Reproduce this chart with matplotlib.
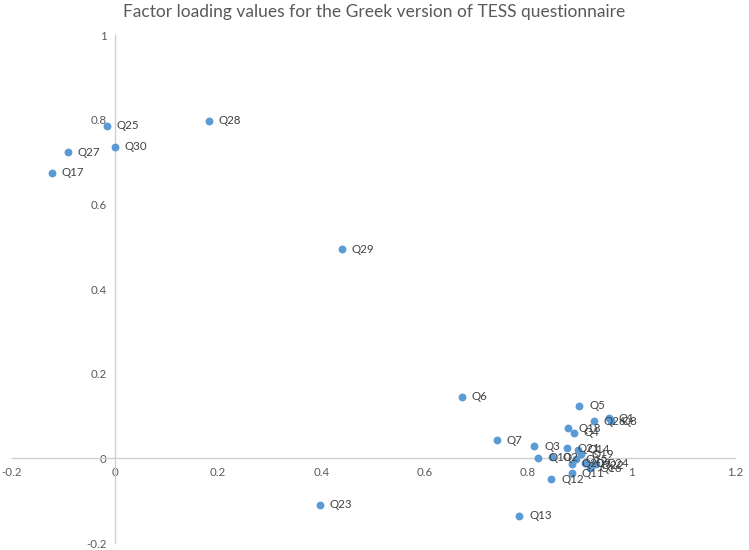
import matplotlib
matplotlib.use("Agg")
import matplotlib.pyplot as plt

labels = ["Q25", "Q28", "Q30", "Q27", "Q17", "Q29", "Q6", "Q23", "Q13", "Q7", "Q5",
          "Q3", "Q10", "Q2", "Q21", "Q14", "Q19", "Q15", "Q20", "Q9", "Q22", "Q24",
          "Q16", "Q11", "Q12", "Q18", "Q4", "Q26", "Q1", "Q8"]
x_vals = [-0.015, 0.182, 0.0, -0.091, -0.122, 0.439, 0.671, 0.397, 0.783, 0.739, 0.899,
          0.812, 0.820, 0.847, 0.876, 0.896, 0.903, 0.892, 0.884, 0.911, 0.923, 0.932,
          0.919, 0.884, 0.845, 0.878, 0.888, 0.928, 0.957, 0.961]
y_vals = [0.786, 0.798, 0.736, 0.723, 0.675, 0.494, 0.146, -0.110, -0.136, 0.043, 0.124,
          0.029, 0.001, 0.003, 0.024, 0.020, 0.010, -0.002, -0.013, -0.011, -0.016, -0.013,
          -0.023, -0.035, -0.049, 0.071, 0.060, 0.088, 0.095, 0.088]
x_ticks = [-0.2, 0, 0.2, 0.4, 0.6, 0.8, 1, 1.2]
y_ticks = [-0.2, 0, 0.2, 0.4, 0.6, 0.8, 1]

plt.rcParams['font.family'] = ['Lato', 'DejaVu Sans']

fig = plt.figure(figsize=(7.49, 5.5), dpi=100)
ax = fig.add_axes([0.0155, 0.0127, 0.9655, 0.9236])
ax.set_xlim(-0.2, 1.2)
ax.set_ylim(-0.2, 1.0)

ax.scatter(x_vals, y_vals, s=32, color="#5B9BD5", zorder=3, linewidths=0)
for lab, xv, yv in zip(labels, x_vals, y_vals):
    ax.annotate(lab, (xv, yv), xytext=(7, 0), textcoords="offset points",
                va="center", ha="left", fontsize=8.3, color="#404040")

for s in ["top", "right"]:
    ax.spines[s].set_visible(False)
ax.spines["left"].set_position(("data", 0))
ax.spines["bottom"].set_position(("data", 0))
for s in ["left", "bottom"]:
    ax.spines[s].set_color("#d0d0d0")
    ax.spines[s].set_linewidth(1.0)

ax.set_xticks(x_ticks)
ax.set_yticks(y_ticks)
ax.set_xticklabels([("%g" % t) for t in x_ticks])
ax.set_yticklabels([("%g" % t) for t in y_ticks])
ax.tick_params(axis="both", length=0, labelsize=8.3, colors="#595959", pad=6)
ax.patch.set_alpha(0)

fig.text(0.5, 0.978, "Factor loading values for the Greek version of TESS questionnaire",
         ha="center", va="center", fontsize=12.5, color="#595959")

fig.savefig("out.png", dpi=100)
